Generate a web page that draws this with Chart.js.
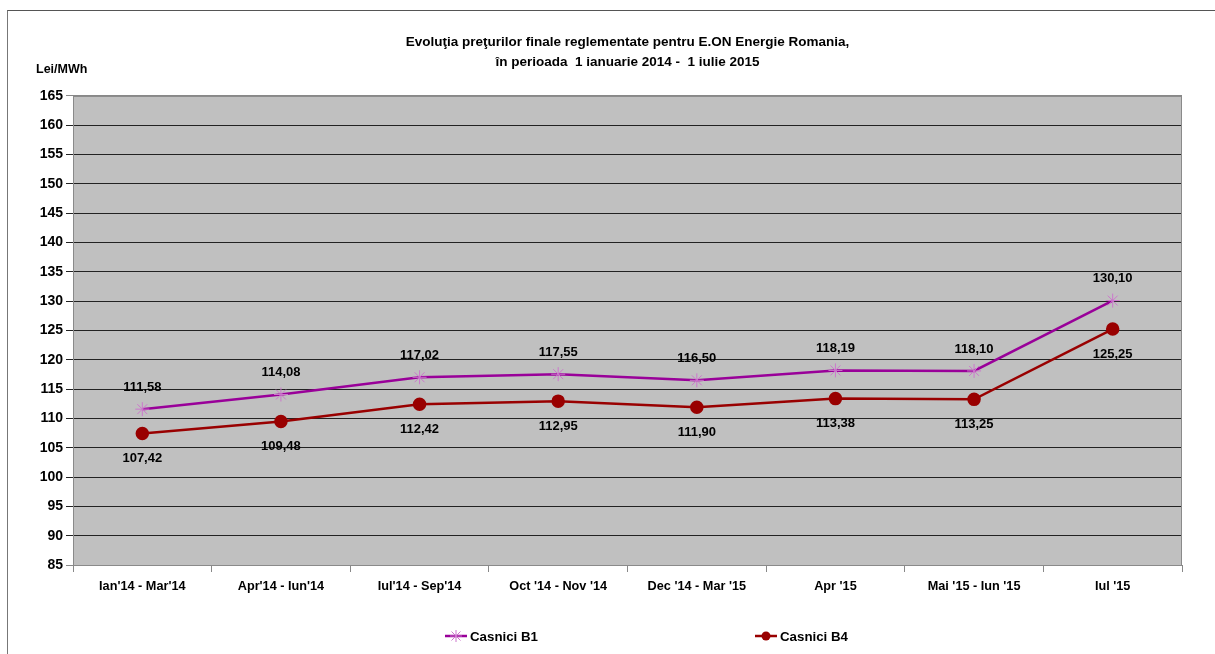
<!DOCTYPE html>
<html>
  <head>
    <script src="https://cdn.jsdelivr.net/npm/chart.js@4.4.0/dist/chart.umd.min.js"></script>
    <style>
      body { margin: 0; background: #fff; }
      #wrap { position: relative; width: 1215px; height: 654px; overflow: hidden; }
      #frame { position: absolute; left: 7px; top: 10px; width: 1300px; height: 700px;
               border-left: 1px solid #777; border-top: 1px solid #555; }
      #legend { position: absolute; top: 628px; left: 0; width: 1215px; height: 20px;
                font: bold 13.3px 'Liberation Sans Narrow', 'Arial Narrow', 'Liberation Sans', Arial, sans-serif; }
      #legend span { position: absolute; top: 0; white-space: nowrap; }
      #legend svg { vertical-align: -3px; margin-right: 3px; }
    </style>
  </head>
  <body>
    <div id="wrap">
      <div id="frame"></div>
      <canvas id="lineChart" width="1215" height="654"></canvas>
      <div id="legend"></div>
    </div>
    <script>
      // categories and values
      const categories = ["Ian'14 - Mar'14", "Apr'14 - Iun'14", "Iul'14 - Sep'14", "Oct '14 - Nov '14",
                          "Dec '14 - Mar '15", "Apr '15", "Mai '15 - Iun '15", "Iul '15"];
      const casniciB1 = [111.58, 114.08, 117.02, 117.55, 116.50, 118.19, 118.10, 130.10];
      const casniciB4 = [107.42, 109.48, 112.42, 112.95, 111.90, 113.38, 113.25, 125.25];
      const yMin = 85, yMax = 165, yStep = 5;

      const FONT = "'Liberation Sans Narrow', 'Arial Narrow', 'Liberation Sans', Arial, sans-serif";

      // grey plot area with thin border
      const plotBg = {
        id: 'plotBg',
        beforeDraw(chart) {
          const a = chart.chartArea, ctx = chart.ctx;
          ctx.save();
          ctx.fillStyle = '#c0c0c0';
          ctx.fillRect(a.left, a.top, a.right - a.left, a.bottom - a.top);
          ctx.restore();
        },
        afterDraw(chart) {
          const a = chart.chartArea, ctx = chart.ctx;
          ctx.save();
          ctx.strokeStyle = '#8a8a8a';
          ctx.lineWidth = 1;
          ctx.strokeRect(a.left + 0.5, a.top + 0.5, a.right - a.left - 1, a.bottom - a.top);
          ctx.font = 'bold 12.5px ' + FONT;
          ctx.fillStyle = '#000';
          ctx.textAlign = 'left';
          ctx.textBaseline = 'middle';
          ctx.fillText('Lei/MWh', 36, 70);
          ctx.restore();
        }
      };

      // value labels: B1 above, B4 below
      const valueLabels = {
        id: 'valueLabels',
        afterDatasetsDraw(chart) {
          const ctx = chart.ctx;
          ctx.save();
          ctx.font = 'bold 13px ' + FONT;
          ctx.fillStyle = '#000';
          ctx.textAlign = 'center';
          ctx.textBaseline = 'middle';
          chart.data.datasets.forEach((ds, di) => {
            const meta = chart.getDatasetMeta(di);
            meta.data.forEach((pt, i) => {
              const txt = ds.data[i].toFixed(2).replace('.', ',');
              const dy = di === 0 ? -22 : 25;
              ctx.fillText(txt, pt.x, pt.y + dy);
            });
          });
          ctx.restore();
        }
      };

      const ctx = document.getElementById('lineChart').getContext('2d');
      const chart = new Chart(ctx, {
        type: 'line',
        data: {
          labels: categories,
          datasets: [{
            label: 'Casnici B1',
            data: casniciB1,
            borderColor: '#990099',
            borderWidth: 2.5,
            pointStyle: 'star',
            pointRadius: 7,
            pointBorderColor: '#cc77cc',
            pointBorderWidth: 1,
            pointBackgroundColor: '#cc77cc',
            tension: 0
          }, {
            label: 'Casnici B4',
            data: casniciB4,
            borderColor: '#990000',
            borderWidth: 2.5,
            pointStyle: 'circle',
            pointRadius: 5.5,
            pointBorderColor: '#990000',
            pointBackgroundColor: '#990000',
            tension: 0
          }]
        },
        options: {
          responsive: false,
          animation: false,
          layout: { padding: { top: 12, left: 0, right: 33, bottom: 49 } },
          plugins: {
            legend: { display: false },
            tooltip: { enabled: false },
            title: {
              display: true,
              fullSize: false,
              text: ['Evoluţia preţurilor finale reglementate pentru E.ON Energie Romania,',
                     'în perioada  1 ianuarie 2014 -  1 iulie 2015'],
              color: '#000',
              font: { family: FONT, size: 13.5, weight: 'bold', lineHeight: 1.48 },
              padding: { top: 20, bottom: 24 }
            }
          },
          scales: {
            x: {
              offset: true,
              afterFit(scale) { scale.height = 40; },
              grid: {
                offset: true,
                drawOnChartArea: false,
                drawTicks: true,
                tickLength: 7,
                color: '#888'
              },
              border: { color: '#888' },
              ticks: {
                padding: 7,
                color: '#000',
                maxRotation: 0,
                font: { family: FONT, size: 12.7, weight: 'bold' }
              }
            },
            y: {
              min: yMin,
              max: yMax,
              afterFit(scale) { scale.width = 73; },
              grid: {
                tickLength: 7,
                color: ctx => (ctx.tick && (ctx.tick.value === yMin || ctx.tick.value === yMax)) ? '#888' : '#222',
                lineWidth: 1
              },
              border: { color: '#888' },
              ticks: {
                stepSize: yStep,
                padding: 3,
                color: '#000',
                font: { family: FONT, size: 14, weight: 'bold' }
              }
            }
          }
        },
        plugins: [plotBg, valueLabels]
      });

      // legend below the chart
      const legendDiv = document.getElementById('legend');
      const legendPos = [445, 755];
      chart.data.datasets.forEach((ds, i) => {
        const marker = ds.pointStyle === 'star'
          ? '<line x1="11" y1="2" x2="11" y2="14" stroke="#cc77cc"/><line x1="5" y1="8" x2="17" y2="8" stroke="#cc77cc"/>' +
            '<line x1="6.5" y1="3.5" x2="15.5" y2="12.5" stroke="#cc77cc"/><line x1="15.5" y1="3.5" x2="6.5" y2="12.5" stroke="#cc77cc"/>'
          : '<circle cx="11" cy="8" r="4.5" fill="' + ds.borderColor + '"/>';
        const span = document.createElement('span');
        span.style.left = legendPos[i] + 'px';
        span.innerHTML = '<svg width="22" height="16"><line x1="0" y1="8" x2="22" y2="8" stroke="' + ds.borderColor +
          '" stroke-width="2.5"/>' + marker + '</svg>' + ds.label;
        legendDiv.appendChild(span);
      });
    </script>
  </body>
</html>
